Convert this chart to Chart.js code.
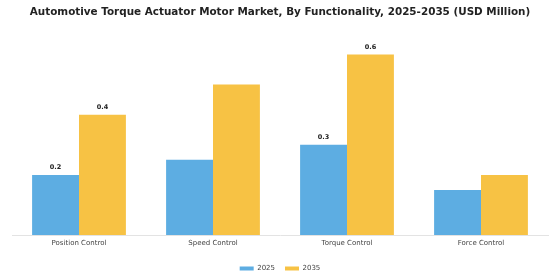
<!DOCTYPE html>
<html>
<head>
<meta charset="utf-8">
<script src="https://cdn.jsdelivr.net/npm/chart.js@4.4.1/dist/chart.umd.min.js"></script>
<style>
html,body{margin:0;padding:0;background:#fff;}
#wrap{width:560px;height:280px;position:relative;}
</style>
</head>
<body>
<div id="wrap"><canvas id="c" width="560" height="280"></canvas></div>
<script>
const titleText = "Automotive Torque Actuator Motor Market, By Functionality, 2025-2035 (USD Million)";
const categories = ["Position Control", "Speed Control", "Torque Control", "Force Control"];
const seriesNames = ["2025", "2035"];
const values2025 = [0.2, 0.25, 0.3, 0.15];
const values2035 = [0.4, 0.5, 0.6, 0.2];
const labeledCategories = [true, false, true, false];
const colors = ["#5DADE2", "#F7C244"];

const valueLabels = {
  id: 'valueLabels',
  afterDatasetsDraw(chart) {
    const ctx = chart.ctx;
    ctx.save();
    ctx.font = "bold 6.5px 'DejaVu Sans'";
    ctx.fillStyle = "#222";
    ctx.textAlign = "center";
    ctx.textBaseline = "middle";
    chart.data.datasets.forEach((ds, di) => {
      const meta = chart.getDatasetMeta(di);
      meta.data.forEach((bar, i) => {
        if (!labeledCategories[i]) return;
        ctx.fillText(ds.data[i].toFixed(1), bar.x, bar.y - 7.5);
      });
    });
    ctx.restore();
  }
};

new Chart(document.getElementById('c'), {
  type: 'bar',
  data: {
    labels: categories,
    datasets: [
      { label: seriesNames[0], data: values2025, backgroundColor: colors[0] },
      { label: seriesNames[1], data: values2035, backgroundColor: colors[1] }
    ]
  },
  options: {
    responsive: false,
    animation: false,
    devicePixelRatio: 1,
    layout: { padding: { left: 12, right: 12, top: 0, bottom: -2 } },
    datasets: { bar: { categoryPercentage: 0.7, barPercentage: 1.0 } },
    scales: {
      x: {
        grid: { display: false, drawTicks: false },
        border: { display: true, color: "#e3e3e3", width: 1 },
        ticks: { color: "#444", font: { family: "'DejaVu Sans'", size: 7 }, padding: 4 },
        afterFit: s => { s.height += 3.5; }
      },
      y: { display: false, min: 0, max: 0.65 }
    },
    plugins: {
      title: {
        display: true,
        text: titleText,
        color: "#222",
        font: { family: "'DejaVu Sans'", size: 10.4, weight: 'bold' },
        padding: { top: 6, bottom: 21 }
      },
      legend: {
        position: 'bottom',
        labels: {
          color: "#444",
          font: { family: "'DejaVu Sans'", size: 7 },
          boxWidth: 14,
          boxHeight: 4,
          padding: 10
        }
      },
      tooltip: { enabled: false }
    }
  },
  plugins: [valueLabels]
});
</script>
</body>
</html>
